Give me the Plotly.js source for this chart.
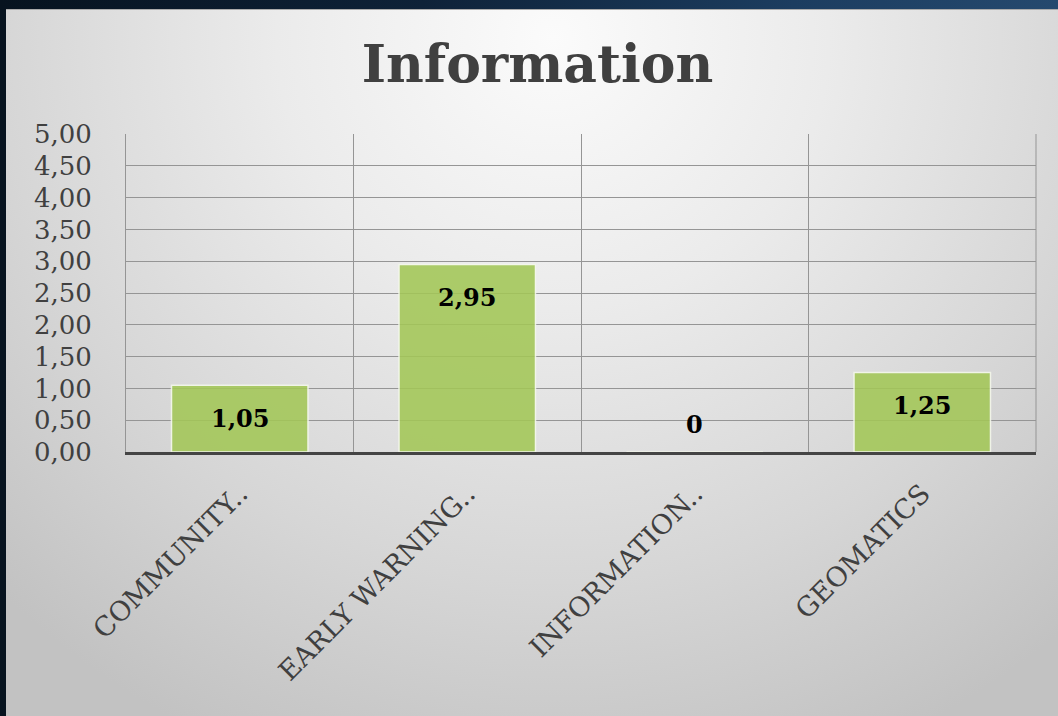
<!DOCTYPE html>
<html>
<head>
<meta charset="utf-8">
<script src="https://cdn.plot.ly/plotly-3.0.1.min.js"></script>
<style>
  html, body { margin:0; padding:0; width:1058px; height:716px; overflow:hidden; }
  body { background: linear-gradient(90deg, #07131f 0%, #0e2238 40%, #1c3d60 75%, #25496e 100%); position:relative; }
  #panel { position:absolute; left:6px; top:9px; right:0; bottom:0;
    background: radial-gradient(ellipse 75% 110% at 52% 4%, #fbfbfb 0%, #ebebeb 35%, #d6d6d6 70%, #c2c2c2 100%);
    border-top:1px solid #aaa; }
  #chart { position:absolute; left:0; top:0; width:1058px; height:716px; }
</style>
</head>
<body>
<div id="panel"></div>
<div id="chart"></div>
<script>
const categories = ["COMMUNITY..", "EARLY WARNING..", "INFORMATION..", "GEOMATICS"];
const values = [1.05, 2.95, 0, 1.25];
const yTickValues = [0, 0.5, 1, 1.5, 2, 2.5, 3, 3.5, 4, 4.5, 5];

function fmt(v) { return v === 0 ? "0" : v.toFixed(2).replace(".", ","); }

const trace = {
  type: "bar",
  x: categories,
  y: values,
  width: 0.6,
  marker: { color: "#a3c757", opacity: 0.88, line: { color: "#f4f8ea", width: 1.5 } },
  hoverinfo: "skip"
};

const annotations = categories.map((c, i) => ({
  x: c, y: values[i], xref: "x", yref: "y",
  text: fmt(values[i]), showarrow: false,
  yanchor: "middle", yshift: values[i] > 0 ? -33 : 28,
  font: { family: "DejaVu Serif", size: 24, color: "#000", weight: "bold" }
}));

const layout = {
  width: 1058, height: 716,
  paper_bgcolor: "rgba(0,0,0,0)", plot_bgcolor: "rgba(0,0,0,0)",
  margin: { l: 126, r: 22, t: 134, b: 264 },
  separators: ", ",
  showlegend: false,
  title: {
    text: "<b>Information</b>", xref: "container", yref: "container",
    x: 0.508, y: 0.911, xanchor: "center", yanchor: "middle",
    font: { family: "DejaVu Serif", size: 52, color: "#404040" }
  },
  xaxis: {
    type: "category", tickson: "boundaries", showgrid: true,
    gridcolor: "#959595", gridwidth: 1,
    tickangle: -45, ticks: "", ticklabelstandoff: 12,
    tickfont: { family: "DejaVu Serif", size: 27, color: "#404040" },
    showline: true, linecolor: "#444", linewidth: 3,
    zeroline: false, fixedrange: true
  },
  yaxis: {
    range: [0, 5], tickvals: yTickValues, tickformat: ".2f",
    showgrid: true, gridcolor: "#959595", gridwidth: 1,
    tickfont: { family: "DejaVu Serif", size: 26, color: "#404040" },
    ticks: "", ticklabelstandoff: 28,
    showline: true, linecolor: "#959595", linewidth: 1, mirror: false,
    zeroline: false, fixedrange: true
  },
  shapes: [{ type: "line", xref: "paper", yref: "paper", x0: 1, x1: 1, y0: 0, y1: 1,
    line: { color: "#959595", width: 1 } }],
  annotations: annotations
};

Plotly.newPlot("chart", [trace], layout, { displayModeBar: false, staticPlot: true });
</script>
</body>
</html>
